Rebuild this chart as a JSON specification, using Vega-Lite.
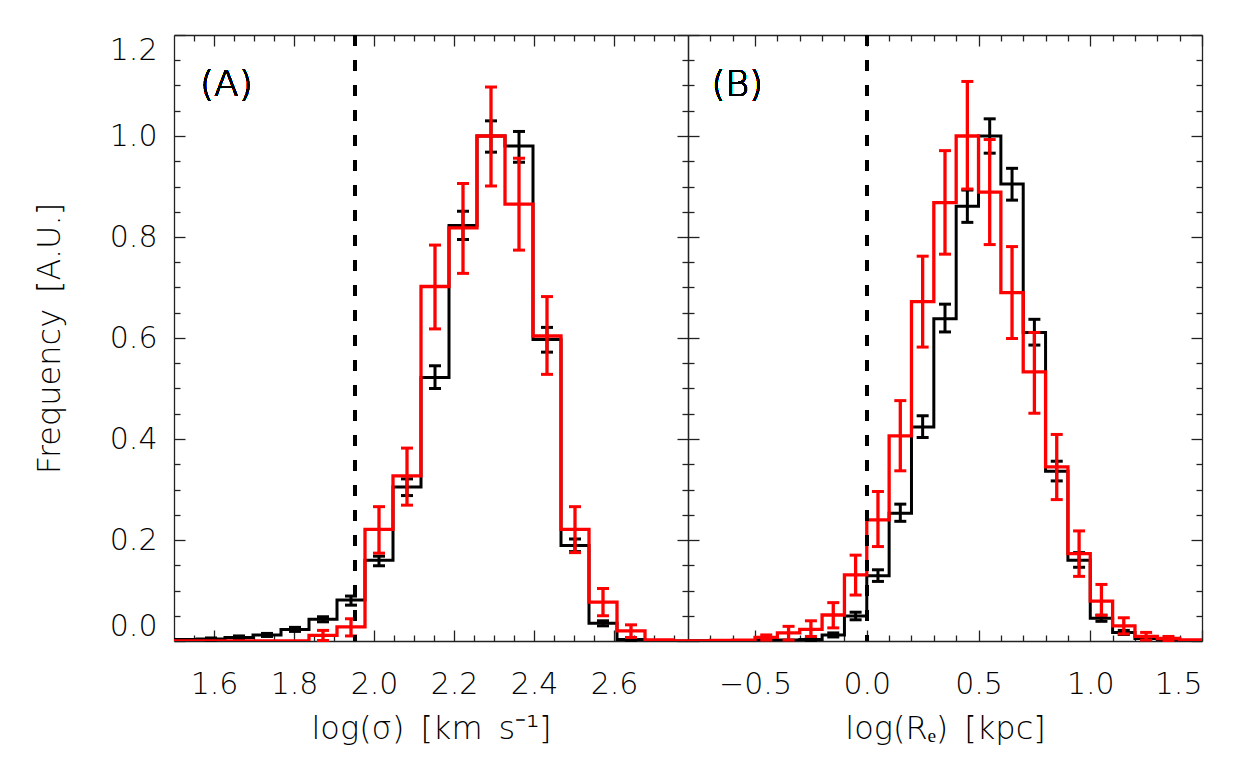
{
  "$schema": "https://vega.github.io/schema/vega-lite/v6.json",
  "padding": {"left": 33, "top": 33, "right": 5, "bottom": 5},
  "spacing": 0,
  "bounds": "flush",
  "config": {
    "view": {"stroke": null},
    "font": "DejaVu Sans",
    "axis": {
      "grid": false,
      "domainColor": "#222",
      "domainWidth": 1.3,
      "tickColor": "#222",
      "tickWidth": 1.3,
      "labelFont": "DejaVu Sans",
      "labelFontSize": 30,
      "labelFontWeight": 200,
      "labelColor": "#000",
      "titleFont": "DejaVu Sans",
      "titleFontSize": 32,
      "titleFontWeight": 200,
      "titleColor": "#000",
      "labelOverlap": false,
      "labelFlush": false,
      "labelBound": false
    }
  },
  "datasets": {
    "a": [
      {"s": "black", "x": 1.4525, "v": 0.002},
      {"s": "black", "x": 1.5225, "v": 0.003},
      {"s": "black", "x": 1.5925, "v": 0.004, "lo": 0.002, "hi": 0.006},
      {"s": "black", "x": 1.6625, "v": 0.007, "lo": 0.004, "hi": 0.010},
      {"s": "black", "x": 1.7325, "v": 0.012, "lo": 0.009, "hi": 0.015},
      {"s": "black", "x": 1.8025, "v": 0.023, "lo": 0.019, "hi": 0.027},
      {"s": "black", "x": 1.8725, "v": 0.043, "lo": 0.038, "hi": 0.048},
      {"s": "black", "x": 1.9425, "v": 0.081, "lo": 0.071, "hi": 0.089},
      {"s": "black", "x": 2.0125, "v": 0.160, "lo": 0.149, "hi": 0.168},
      {"s": "black", "x": 2.0825, "v": 0.305, "lo": 0.288, "hi": 0.321},
      {"s": "black", "x": 2.1525, "v": 0.522, "lo": 0.500, "hi": 0.545},
      {"s": "black", "x": 2.2225, "v": 0.823, "lo": 0.795, "hi": 0.851},
      {"s": "black", "x": 2.2925, "v": 1.000, "lo": 0.968, "hi": 1.030},
      {"s": "black", "x": 2.3625, "v": 0.980, "lo": 0.948, "hi": 1.009},
      {"s": "black", "x": 2.4325, "v": 0.597, "lo": 0.572, "hi": 0.621},
      {"s": "black", "x": 2.5025, "v": 0.189, "lo": 0.177, "hi": 0.202},
      {"s": "black", "x": 2.5725, "v": 0.035, "lo": 0.030, "hi": 0.040},
      {"s": "black", "x": 2.6425, "v": 0.003, "lo": 0.001, "hi": 0.005},
      {"s": "black", "x": 2.7125, "v": 0.0},
      {"s": "black", "x": 2.7825, "v": 0.0},
      {"s": "black", "x": 2.8525, "v": 0.0},
      {"s": "red", "x": 1.4525, "v": 0.0},
      {"s": "red", "x": 1.5225, "v": 0.0},
      {"s": "red", "x": 1.5925, "v": 0.0},
      {"s": "red", "x": 1.6625, "v": 0.0},
      {"s": "red", "x": 1.7325, "v": 0.0},
      {"s": "red", "x": 1.8025, "v": 0.0},
      {"s": "red", "x": 1.8725, "v": 0.011, "lo": 0.001, "hi": 0.021},
      {"s": "red", "x": 1.9425, "v": 0.028, "lo": 0.010, "hi": 0.044},
      {"s": "red", "x": 2.0125, "v": 0.221, "lo": 0.174, "hi": 0.266},
      {"s": "red", "x": 2.0825, "v": 0.327, "lo": 0.269, "hi": 0.382},
      {"s": "red", "x": 2.1525, "v": 0.702, "lo": 0.618, "hi": 0.784},
      {"s": "red", "x": 2.2225, "v": 0.818, "lo": 0.728, "hi": 0.906},
      {"s": "red", "x": 2.2925, "v": 1.000, "lo": 0.901, "hi": 1.097},
      {"s": "red", "x": 2.3625, "v": 0.865, "lo": 0.774, "hi": 0.956},
      {"s": "red", "x": 2.4325, "v": 0.604, "lo": 0.528, "hi": 0.682},
      {"s": "red", "x": 2.5025, "v": 0.221, "lo": 0.175, "hi": 0.266},
      {"s": "red", "x": 2.5725, "v": 0.077, "lo": 0.050, "hi": 0.104},
      {"s": "red", "x": 2.6425, "v": 0.020, "lo": 0.007, "hi": 0.032},
      {"s": "red", "x": 2.7125, "v": 0.002},
      {"s": "red", "x": 2.7825, "v": 0.0},
      {"s": "red", "x": 2.8525, "v": 0.0}
    ],
    "b": [
      {"s": "black", "x": -0.85, "v": 0.0},
      {"s": "black", "x": -0.75, "v": 0.0005},
      {"s": "black", "x": -0.65, "v": 0.0005},
      {"s": "black", "x": -0.55, "v": 0.001},
      {"s": "black", "x": -0.45, "v": 0.001},
      {"s": "black", "x": -0.35, "v": 0.002},
      {"s": "black", "x": -0.25, "v": 0.003, "lo": 0.001, "hi": 0.005},
      {"s": "black", "x": -0.15, "v": 0.012, "lo": 0.008, "hi": 0.016},
      {"s": "black", "x": -0.05, "v": 0.0495, "lo": 0.042, "hi": 0.057},
      {"s": "black", "x": 0.05, "v": 0.129, "lo": 0.118, "hi": 0.141},
      {"s": "black", "x": 0.15, "v": 0.253, "lo": 0.237, "hi": 0.271},
      {"s": "black", "x": 0.25, "v": 0.424, "lo": 0.403, "hi": 0.446},
      {"s": "black", "x": 0.35, "v": 0.638, "lo": 0.612, "hi": 0.667},
      {"s": "black", "x": 0.45, "v": 0.861, "lo": 0.829, "hi": 0.893},
      {"s": "black", "x": 0.55, "v": 1.000, "lo": 0.966, "hi": 1.034},
      {"s": "black", "x": 0.65, "v": 0.905, "lo": 0.873, "hi": 0.936},
      {"s": "black", "x": 0.75, "v": 0.611, "lo": 0.586, "hi": 0.637},
      {"s": "black", "x": 0.85, "v": 0.336, "lo": 0.317, "hi": 0.356},
      {"s": "black", "x": 0.95, "v": 0.160, "lo": 0.146, "hi": 0.175},
      {"s": "black", "x": 1.05, "v": 0.045, "lo": 0.039, "hi": 0.051},
      {"s": "black", "x": 1.15, "v": 0.017, "lo": 0.013, "hi": 0.021},
      {"s": "black", "x": 1.25, "v": 0.005, "lo": 0.003, "hi": 0.007},
      {"s": "black", "x": 1.35, "v": 0.002, "lo": 0.001, "hi": 0.003},
      {"s": "black", "x": 1.45, "v": 0.001},
      {"s": "black", "x": 1.55, "v": 0.0},
      {"s": "red", "x": -0.85, "v": 0.0},
      {"s": "red", "x": -0.75, "v": 0.0},
      {"s": "red", "x": -0.65, "v": 0.001},
      {"s": "red", "x": -0.55, "v": 0.0015},
      {"s": "red", "x": -0.45, "v": 0.007, "lo": 0.002, "hi": 0.012},
      {"s": "red", "x": -0.35, "v": 0.016, "lo": 0.002, "hi": 0.029},
      {"s": "red", "x": -0.25, "v": 0.023, "lo": 0.009, "hi": 0.040},
      {"s": "red", "x": -0.15, "v": 0.0515, "lo": 0.026, "hi": 0.076},
      {"s": "red", "x": -0.05, "v": 0.131, "lo": 0.091, "hi": 0.170},
      {"s": "red", "x": 0.05, "v": 0.240, "lo": 0.187, "hi": 0.296},
      {"s": "red", "x": 0.15, "v": 0.406, "lo": 0.337, "hi": 0.476},
      {"s": "red", "x": 0.25, "v": 0.672, "lo": 0.582, "hi": 0.762},
      {"s": "red", "x": 0.35, "v": 0.868, "lo": 0.766, "hi": 0.971},
      {"s": "red", "x": 0.45, "v": 1.000, "lo": 0.895, "hi": 1.108},
      {"s": "red", "x": 0.55, "v": 0.889, "lo": 0.785, "hi": 0.993},
      {"s": "red", "x": 0.65, "v": 0.690, "lo": 0.599, "hi": 0.781},
      {"s": "red", "x": 0.75, "v": 0.533, "lo": 0.451, "hi": 0.611},
      {"s": "red", "x": 0.85, "v": 0.345, "lo": 0.280, "hi": 0.409},
      {"s": "red", "x": 0.95, "v": 0.173, "lo": 0.128, "hi": 0.218},
      {"s": "red", "x": 1.05, "v": 0.079, "lo": 0.051, "hi": 0.112},
      {"s": "red", "x": 1.15, "v": 0.030, "lo": 0.014, "hi": 0.046},
      {"s": "red", "x": 1.25, "v": 0.009, "lo": 0.002, "hi": 0.017},
      {"s": "red", "x": 1.35, "v": 0.005, "lo": 0.001, "hi": 0.009},
      {"s": "red", "x": 1.45, "v": 0.002},
      {"s": "red", "x": 1.55, "v": 0.0}
    ]
  },
  "hconcat": [
    {
      "width": 514,
      "height": 606,
      "data": {"name": "a"},
      "resolve": {"axis": {"x": "independent", "y": "independent"}},
      "layer": [
        {
          "transform": [{"filter": "datum.s === 'black'"}],
          "mark": {"type": "line", "interpolate": "step", "color": "#000", "strokeWidth": 3, "clip": true},
          "encoding": {
            "x": {"field": "x", "type": "quantitative", "scale": {"domain": [1.5, 2.785], "nice": false, "zero": false},
              "axis": {"orient": "bottom", "values": [1.55,1.6,1.65,1.7,1.75,1.8,1.85,1.9,1.95,2.0,2.05,2.1,2.15,2.2,2.25,2.3,2.35,2.4,2.45,2.5,2.55,2.6,2.65,2.7,2.75],
                "tickSize": {"condition": {"test": "abs(datum.value*5-round(datum.value*5))<0.001", "value": -11}, "value": -6},
                "labelExpr": "abs(datum.value*5-round(datum.value*5))<0.001 ? format(datum.value, '.1f') : ''",
                "labelPadding": 39, "title": "log(σ)\u2002[km\u2002s⁻¹]", "titlePadding": 9}},
            "y": {"field": "v", "type": "quantitative", "scale": {"domain": [0, 1.2], "nice": false},
              "axis": {"orient": "left", "values": [0,0.05,0.1,0.15,0.2,0.25,0.3,0.35,0.4,0.45,0.5,0.55,0.6,0.65,0.7,0.75,0.8,0.85,0.9,0.95,1.0,1.05,1.1,1.15,1.2],
                "tickSize": {"condition": {"test": "abs(datum.value*5-round(datum.value*5))<0.001", "value": -11}, "value": -6},
                "labelExpr": "abs(datum.value*5-round(datum.value*5))<0.001 ? format(datum.value, '.1f') : ''",
                "labelFlush": true,
                "labelPadding": 28, "title": "Frequency\u2002[A.U.]", "titlePadding": 43}}
          }
        },
        {
          "transform": [{"filter": "datum.s === 'black' && datum.lo != null"}],
          "mark": {"type": "rule", "color": "#000", "strokeWidth": 3},
          "encoding": {
            "x": {"field": "x", "type": "quantitative", "scale": {"domain": [1.5, 2.785], "nice": false, "zero": false},
              "axis": {"orient": "top", "values": [1.55,1.6,1.65,1.7,1.75,1.8,1.85,1.9,1.95,2.0,2.05,2.1,2.15,2.2,2.25,2.3,2.35,2.4,2.45,2.5,2.55,2.6,2.65,2.7,2.75],
                "tickSize": {"condition": {"test": "abs(datum.value*5-round(datum.value*5))<0.001", "value": -11}, "value": -6},
                "labels": false, "title": null}},
            "y": {"field": "lo", "type": "quantitative", "scale": {"domain": [0, 1.2], "nice": false},
              "axis": {"orient": "right", "values": [0,0.05,0.1,0.15,0.2,0.25,0.3,0.35,0.4,0.45,0.5,0.55,0.6,0.65,0.7,0.75,0.8,0.85,0.9,0.95,1.0,1.05,1.1,1.15,1.2],
                "tickSize": {"condition": {"test": "abs(datum.value*5-round(datum.value*5))<0.001", "value": -11}, "value": -6},
                "labels": false, "title": null}},
            "y2": {"field": "hi"}
          }
        },
        {
          "transform": [{"filter": "datum.s === 'black' && datum.lo != null"}],
          "mark": {"type": "tick", "orient": "horizontal", "color": "#000", "opacity": 1, "size": 12, "thickness": 3},
          "encoding": {
            "x": {"field": "x", "type": "quantitative", "axis": null},
            "y": {"field": "lo", "type": "quantitative", "axis": null}
          }
        },
        {
          "transform": [{"filter": "datum.s === 'black' && datum.lo != null"}],
          "mark": {"type": "tick", "orient": "horizontal", "color": "#000", "opacity": 1, "size": 12, "thickness": 3},
          "encoding": {
            "x": {"field": "x", "type": "quantitative", "axis": null},
            "y": {"field": "hi", "type": "quantitative", "axis": null}
          }
        },
        {
          "transform": [{"filter": "datum.s === 'red'"}],
          "mark": {"type": "line", "interpolate": "step", "color": "#ff0000", "strokeWidth": 3.3, "clip": true},
          "encoding": {
            "x": {"field": "x", "type": "quantitative", "axis": null},
            "y": {"field": "v", "type": "quantitative", "axis": null}
          }
        },
        {
          "transform": [{"filter": "datum.s === 'red' && datum.lo != null"}],
          "mark": {"type": "rule", "color": "#ff0000", "strokeWidth": 3.3},
          "encoding": {
            "x": {"field": "x", "type": "quantitative", "axis": null},
            "y": {"field": "lo", "type": "quantitative", "axis": null},
            "y2": {"field": "hi"}
          }
        },
        {
          "transform": [{"filter": "datum.s === 'red' && datum.lo != null"}],
          "mark": {"type": "tick", "orient": "horizontal", "color": "#ff0000", "opacity": 1, "size": 12, "thickness": 3},
          "encoding": {
            "x": {"field": "x", "type": "quantitative", "axis": null},
            "y": {"field": "lo", "type": "quantitative", "axis": null}
          }
        },
        {
          "transform": [{"filter": "datum.s === 'red' && datum.lo != null"}],
          "mark": {"type": "tick", "orient": "horizontal", "color": "#ff0000", "opacity": 1, "size": 12, "thickness": 3},
          "encoding": {
            "x": {"field": "x", "type": "quantitative", "axis": null},
            "y": {"field": "hi", "type": "quantitative", "axis": null}
          }
        },
        {
          "mark": {"type": "rule", "color": "#000", "strokeWidth": 3, "strokeDash": [11, 14]},
          "encoding": {"x": {"datum": 1.953, "type": "quantitative", "axis": null}}
        },
        {
          "mark": {"type": "text", "text": "(A)", "fontSize": 36, "fontWeight": 200, "font": "DejaVu Sans", "align": "left", "baseline": "middle", "color": "#000"},
          "encoding": {
            "x": {"datum": 1.565, "type": "quantitative", "axis": null},
            "y": {"datum": 1.101, "type": "quantitative", "axis": null}
          }
        }
      ]
    },
    {
      "width": 514,
      "height": 606,
      "data": {"name": "b"},
      "resolve": {"axis": {"x": "independent", "y": "independent"}},
      "layer": [
        {
          "transform": [{"filter": "datum.s === 'black'"}],
          "mark": {"type": "line", "interpolate": "step", "color": "#000", "strokeWidth": 3, "clip": true},
          "encoding": {
            "x": {"field": "x", "type": "quantitative", "scale": {"domain": [-0.8, 1.5], "nice": false, "zero": false},
              "axis": {"orient": "bottom", "values": [-0.7,-0.6,-0.5,-0.4,-0.3,-0.2,-0.1,0,0.1,0.2,0.3,0.4,0.5,0.6,0.7,0.8,0.9,1.0,1.1,1.2,1.3,1.4,1.5],
                "tickSize": {"condition": {"test": "abs(datum.value*2-round(datum.value*2))<0.001", "value": -11}, "value": -6},
                "labelExpr": "abs(datum.value*2-round(datum.value*2))<0.001 ? format(datum.value, '.1f') : ''",
                "labelFlush": true,
                "labelPadding": 39, "title": "log(Rₑ)\u2002[kpc]", "titlePadding": 9}},
            "y": {"field": "v", "type": "quantitative", "scale": {"domain": [0, 1.2], "nice": false},
              "axis": {"orient": "left", "values": [0,0.05,0.1,0.15,0.2,0.25,0.3,0.35,0.4,0.45,0.5,0.55,0.6,0.65,0.7,0.75,0.8,0.85,0.9,0.95,1.0,1.05,1.1,1.15,1.2],
                "tickSize": {"condition": {"test": "abs(datum.value*5-round(datum.value*5))<0.001", "value": -11}, "value": -6},
                "labels": false, "title": null}}
          }
        },
        {
          "transform": [{"filter": "datum.s === 'black' && datum.lo != null"}],
          "mark": {"type": "rule", "color": "#000", "strokeWidth": 3},
          "encoding": {
            "x": {"field": "x", "type": "quantitative", "scale": {"domain": [-0.8, 1.5], "nice": false, "zero": false},
              "axis": {"orient": "top", "values": [-0.7,-0.6,-0.5,-0.4,-0.3,-0.2,-0.1,0,0.1,0.2,0.3,0.4,0.5,0.6,0.7,0.8,0.9,1.0,1.1,1.2,1.3,1.4,1.5],
                "tickSize": {"condition": {"test": "abs(datum.value*2-round(datum.value*2))<0.001", "value": -11}, "value": -6},
                "labels": false, "title": null}},
            "y": {"field": "lo", "type": "quantitative", "scale": {"domain": [0, 1.2], "nice": false},
              "axis": {"orient": "right", "values": [0,0.05,0.1,0.15,0.2,0.25,0.3,0.35,0.4,0.45,0.5,0.55,0.6,0.65,0.7,0.75,0.8,0.85,0.9,0.95,1.0,1.05,1.1,1.15,1.2],
                "tickSize": {"condition": {"test": "abs(datum.value*5-round(datum.value*5))<0.001", "value": -11}, "value": -6},
                "labels": false, "title": null}},
            "y2": {"field": "hi"}
          }
        },
        {
          "transform": [{"filter": "datum.s === 'black' && datum.lo != null"}],
          "mark": {"type": "tick", "orient": "horizontal", "color": "#000", "opacity": 1, "size": 12, "thickness": 3},
          "encoding": {
            "x": {"field": "x", "type": "quantitative", "axis": null},
            "y": {"field": "lo", "type": "quantitative", "axis": null}
          }
        },
        {
          "transform": [{"filter": "datum.s === 'black' && datum.lo != null"}],
          "mark": {"type": "tick", "orient": "horizontal", "color": "#000", "opacity": 1, "size": 12, "thickness": 3},
          "encoding": {
            "x": {"field": "x", "type": "quantitative", "axis": null},
            "y": {"field": "hi", "type": "quantitative", "axis": null}
          }
        },
        {
          "transform": [{"filter": "datum.s === 'red'"}],
          "mark": {"type": "line", "interpolate": "step", "color": "#ff0000", "strokeWidth": 3.3, "clip": true},
          "encoding": {
            "x": {"field": "x", "type": "quantitative", "axis": null},
            "y": {"field": "v", "type": "quantitative", "axis": null}
          }
        },
        {
          "transform": [{"filter": "datum.s === 'red' && datum.lo != null"}],
          "mark": {"type": "rule", "color": "#ff0000", "strokeWidth": 3.3},
          "encoding": {
            "x": {"field": "x", "type": "quantitative", "axis": null},
            "y": {"field": "lo", "type": "quantitative", "axis": null},
            "y2": {"field": "hi"}
          }
        },
        {
          "transform": [{"filter": "datum.s === 'red' && datum.lo != null"}],
          "mark": {"type": "tick", "orient": "horizontal", "color": "#ff0000", "opacity": 1, "size": 12, "thickness": 3},
          "encoding": {
            "x": {"field": "x", "type": "quantitative", "axis": null},
            "y": {"field": "lo", "type": "quantitative", "axis": null}
          }
        },
        {
          "transform": [{"filter": "datum.s === 'red' && datum.lo != null"}],
          "mark": {"type": "tick", "orient": "horizontal", "color": "#ff0000", "opacity": 1, "size": 12, "thickness": 3},
          "encoding": {
            "x": {"field": "x", "type": "quantitative", "axis": null},
            "y": {"field": "hi", "type": "quantitative", "axis": null}
          }
        },
        {
          "mark": {"type": "rule", "color": "#000", "strokeWidth": 3, "strokeDash": [11, 14]},
          "encoding": {"x": {"datum": 0.0, "type": "quantitative", "axis": null}}
        },
        {
          "mark": {"type": "text", "text": "(B)", "fontSize": 36, "fontWeight": 200, "font": "DejaVu Sans", "align": "left", "baseline": "middle", "color": "#000"},
          "encoding": {
            "x": {"datum": -0.695, "type": "quantitative", "axis": null},
            "y": {"datum": 1.101, "type": "quantitative", "axis": null}
          }
        }
      ]
    }
  ]
}
